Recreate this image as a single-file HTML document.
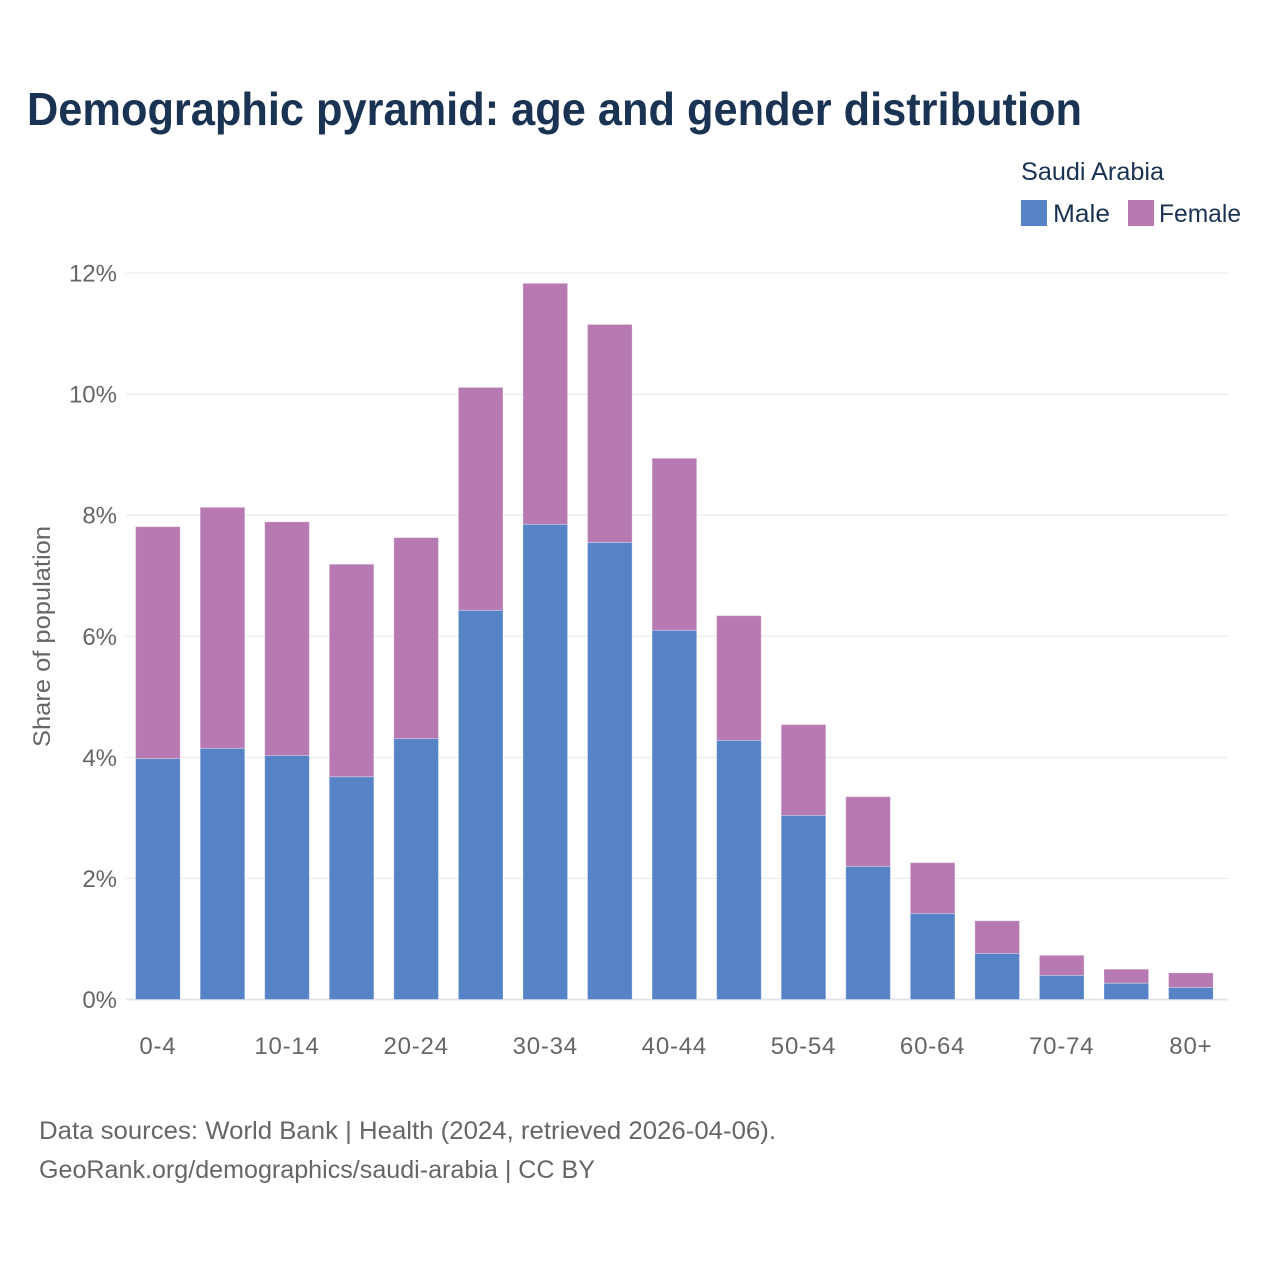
<!DOCTYPE html>
<html lang="en">
<head>
<meta charset="utf-8">
<title>Demographic pyramid: age and gender distribution</title>
<style>
html,body{margin:0;padding:0;background:#fff;}
svg{display:block;font-family:"Liberation Sans",sans-serif;}
</style>
</head>
<body>
<svg id="chart" width="1280" height="1280" viewBox="0 0 1280 1280" xmlns="http://www.w3.org/2000/svg">
  <rect width="1280" height="1280" fill="#ffffff"/>
  <text x="27" y="125" font-size="46" font-weight="700" fill="#1a3353" textLength="1055" lengthAdjust="spacingAndGlyphs">Demographic pyramid: age and gender distribution</text>
  <text x="1021" y="180" font-size="25" fill="#1a3353" textLength="143" lengthAdjust="spacingAndGlyphs">Saudi Arabia</text>
  <g>
    <rect x="1021" y="200" width="26" height="26" fill="#5682c6"/>
    <text x="1053" y="222" font-size="25" fill="#1a3353" textLength="57" lengthAdjust="spacingAndGlyphs">Male</text>
  </g>
  <g>
    <rect x="1128" y="200" width="26" height="26" fill="#b679b2"/>
    <text x="1159" y="222" font-size="25" fill="#1a3353" textLength="82" lengthAdjust="spacingAndGlyphs">Female</text>
  </g>
  <text transform="translate(50,636.5) rotate(-90)" text-anchor="middle" font-size="24" fill="#666666" textLength="221" lengthAdjust="spacingAndGlyphs">Share of population</text>
  <g id="grid"></g>
  <g id="bars"></g>
  <g id="yticks"></g>
  <g id="xticks"></g>
  <text x="39" y="1139" font-size="25" fill="#666666" textLength="737" lengthAdjust="spacingAndGlyphs">Data sources: World Bank | Health (2024, retrieved 2026-04-06).</text>
  <text x="39" y="1178" font-size="25" fill="#666666" textLength="556" lengthAdjust="spacingAndGlyphs">GeoRank.org/demographics/saudi-arabia | CC BY</text>
</svg>
<script>
const categories = ['0-4','5-9','10-14','15-19','20-24','25-29','30-34','35-39','40-44','45-49','50-54','55-59','60-64','65-69','70-74','75-79','80+'];
const maleValues = [3.98,4.15,4.03,3.68,4.31,6.43,7.85,7.55,6.10,4.28,3.04,2.20,1.42,0.76,0.40,0.27,0.20];
const femaleValues = [3.83,3.98,3.86,3.51,3.32,3.68,3.98,3.60,2.84,2.06,1.50,1.15,0.84,0.54,0.33,0.23,0.24];
const yTicks = [0,2,4,6,8,10,12];
const xLabelEvery = ['0-4','10-14','20-24','30-34','40-44','50-54','60-64','70-74','80+'];

const NS = 'http://www.w3.org/2000/svg';
const plotLeft = 126, plotRight = 1228;
const y0 = 999.5, pxPerUnit = 60.54;
const firstCenter = 157.9, step = 64.56, barWidth = 44.6;
const yScale = v => y0 - v * pxPerUnit;
const xScale = i => firstCenter + i * step;

function mk(tag, parent, attrs) {
  const el = document.createElementNS(NS, tag);
  for (const k in attrs) el.setAttribute(k, attrs[k]);
  parent.appendChild(el);
  return el;
}

const grid = document.getElementById('grid');
const yG = document.getElementById('yticks');
yTicks.forEach(t => {
  const y = yScale(t);
  const line = mk('line', grid, {x1: plotLeft, x2: plotRight, y1: y, y2: y, stroke: t === 0 ? '#e3e5ee' : '#e8e8e8', 'stroke-width': t === 0 ? 2 : 1});
  
  
  const label = mk('text', yG, {x: 117, y: y + 8.5, 'text-anchor': 'end', 'font-size': 24, fill: '#666666'});
  
  
  label.textContent = t + '%';
});

const bars = document.getElementById('bars');
categories.forEach((c, i) => {
  const x = xScale(i) - barWidth / 2;
  const m = maleValues[i], f = femaleValues[i];
  const maleBar = mk('rect', bars, {x: x, y: yScale(m), width: barWidth, height: y0 - yScale(m), fill: '#5682c6', stroke: '#ffffff', 'stroke-opacity': 0.3, 'stroke-width': 1});
  
  
  const femaleBar = mk('rect', bars, {x: x, y: yScale(m + f), width: barWidth, height: yScale(m) - yScale(m + f), fill: '#b679b2', stroke: '#ffffff', 'stroke-opacity': 0.3, 'stroke-width': 1});
  
  
});

const xG = document.getElementById('xticks');
categories.forEach((c, i) => {
  if (!xLabelEvery.includes(c)) return;
  const label = mk('text', xG, {x: xScale(i), y: 1054, 'text-anchor': 'middle', 'font-size': 24, 'letter-spacing': 0.8, fill: '#666666'});
  
  
  label.textContent = c;
});
</script>
</body>
</html>
